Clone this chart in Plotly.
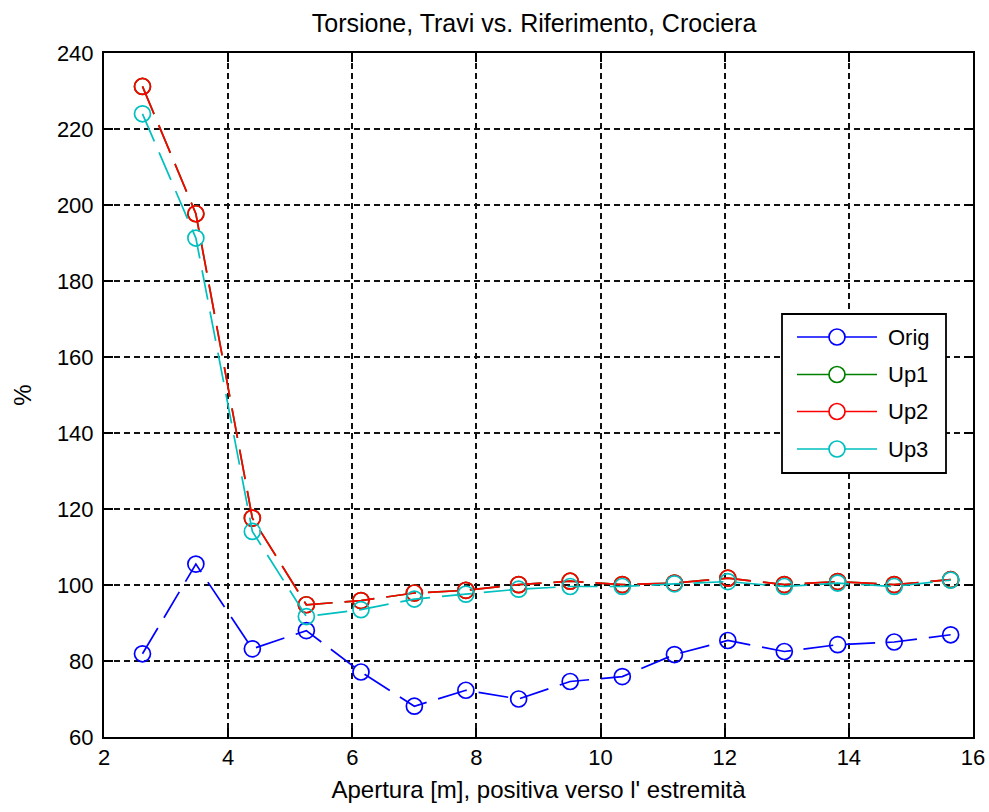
import plotly.graph_objects as go

# Aperture positions [m] and torsion ratios [%]
apertura = [2.62, 3.48, 4.39, 5.26, 6.14, 7.00, 7.83, 8.68,
            9.51, 10.35, 11.19, 12.05, 12.96, 13.82, 14.73, 15.64]
orig = [81.9, 105.5, 83.2, 88.0, 77.1, 68.1, 72.3, 70.0,
        74.6, 75.9, 81.7, 85.4, 82.5, 84.3, 85.0, 86.9]
up1 = [231.2, 197.7, 117.6, 94.8, 95.9, 97.9, 98.6, 100.1,
       101.0, 100.1, 100.5, 101.8, 100.1, 100.9, 100.1, 101.4]
up2 = [231.2, 197.7, 117.6, 94.8, 95.9, 97.9, 98.6, 100.1,
       101.0, 100.1, 100.5, 101.8, 100.1, 100.9, 100.1, 101.4]
up3 = [224.0, 191.3, 114.1, 91.7, 93.5, 96.3, 97.6, 98.9,
       99.6, 99.6, 100.3, 100.9, 99.6, 100.5, 99.6, 101.3]

series_names = ["Orig", "Up1", "Up2", "Up3"]
series_values = [orig, up1, up2, up3]
series_colors = ["#0000FF", "#008000", "#FF0000", "#00BFBF"]

x_ticks = [2, 4, 6, 8, 10, 12, 14, 16]
y_ticks = [60, 80, 100, 120, 140, 160, 180, 200, 220, 240]

FONT = "Liberation Sans, Arial, sans-serif"

# plot frame in pixels
W, H = 989, 812
L, R, T, B = 104, 16, 53, 75
PW, PH = W - L - R, H - T - B


def px_x(px):
    return (px - L) / PW


def px_y(py):
    return (H - B - py) / PH


fig = go.Figure()

for name, vals, col in zip(series_names, series_values, series_colors):
    fig.add_trace(go.Scatter(
        x=apertura, y=vals, mode="lines+markers", name=name,
        showlegend=False,
        line=dict(color=col, width=1.7, dash="30px,12px"),
        marker=dict(symbol="circle-open", size=16, color=col,
                    line=dict(width=1.7, color=col)),
    ))

axis_common = dict(
    showline=True, linecolor="#000000", linewidth=2, mirror="ticks",
    ticks="inside", ticklen=9, tickwidth=1.5, tickcolor="#000000",
    showgrid=True, gridcolor="#111111", gridwidth=1.6, griddash="6px,4px",
    zeroline=False, automargin=False,
    tickfont=dict(family=FONT, size=22, color="#000000"),
)

fig.update_xaxes(
    range=[2, 16], tickvals=x_ticks, ticktext=[str(v) for v in x_ticks],
    title=dict(text="Apertura [m], positiva verso l' estremità",
               font=dict(family=FONT, size=24, color="#000000"), standoff=12),
    **axis_common,
)
fig.update_yaxes(
    range=[60, 240], tickvals=y_ticks, ticktext=[str(v) for v in y_ticks],
    title=dict(text="%", font=dict(family=FONT, size=24, color="#000000"),
               standoff=18),
    ticklabelstandoff=4,
    **axis_common,
)

# legend box drawn with shapes and annotations
shapes = [dict(type="rect", xref="paper", yref="paper",
               x0=px_x(782), x1=px_x(946), y0=px_y(473), y1=px_y(314),
               line=dict(color="#000000", width=1.8), fillcolor="#FFFFFF",
               layer="above")]
annotations = []
row_y = [337, 374.5, 411.5, 449]
for name, col, ry in zip(series_names, series_colors, row_y):
    shapes.append(dict(type="line", xref="paper", yref="paper",
                       x0=px_x(797), x1=px_x(877), y0=px_y(ry), y1=px_y(ry),
                       line=dict(color=col, width=1.7), layer="above"))
    shapes.append(dict(type="circle", xref="paper", yref="paper",
                       xsizemode="pixel", ysizemode="pixel",
                       xanchor=px_x(837), yanchor=px_y(ry),
                       x0=-8, x1=8, y0=-8, y1=8,
                       line=dict(color=col, width=1.7), fillcolor="#FFFFFF",
                       layer="above"))
    annotations.append(dict(text=name, xref="paper", yref="paper",
                            x=px_x(886), y=px_y(ry), xanchor="left",
                            yanchor="middle", showarrow=False,
                            font=dict(family=FONT, size=22, color="#000000")))

fig.update_layout(
    width=W, height=H,
    margin=dict(l=L, r=R, t=T, b=B),
    paper_bgcolor="#FFFFFF", plot_bgcolor="#FFFFFF",
    title=dict(text="Torsione, Travi vs. Riferimento, Crociera",
               font=dict(family=FONT, size=25, color="#000000"),
               x=0.540, xanchor="center", y=1 - 23 / H, yanchor="middle",
               yref="container"),
    shapes=shapes, annotations=annotations,
    showlegend=False,
)

fig.write_html("out.html")
